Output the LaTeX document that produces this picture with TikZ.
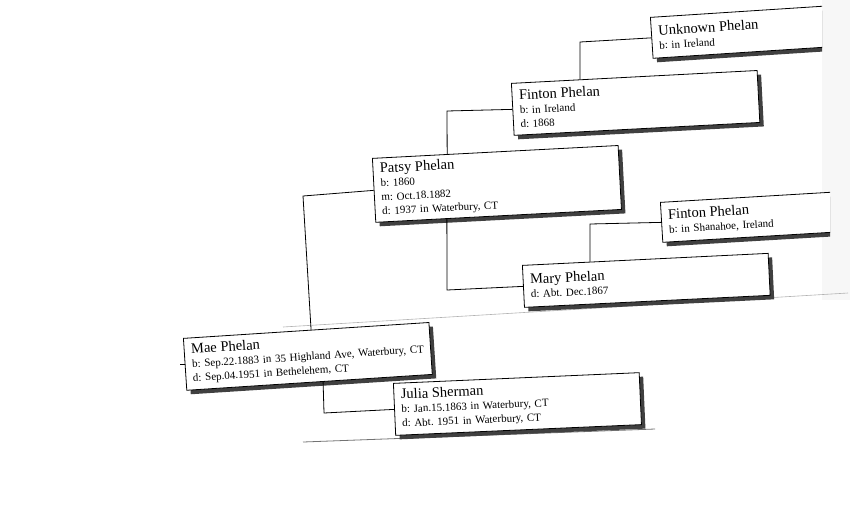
\documentclass[tikz,border=0pt]{standalone}
\usepackage{fontspec}
\setmainfont{Liberation Serif}
\usetikzlibrary{shadows,calc}
\frenchspacing
\newcommand\pnname{\fontsize{14.5}{16}\selectfont}
\newcommand\pndet{\fontsize{11}{14}\selectfont\frenchspacing}
\begin{document}
\begin{tikzpicture}[x=1pt,y=-1pt,
  person/.style={draw=black, line width=0.8pt, fill=white, anchor=north west,
    minimum width=246pt, text width=232pt, inner xsep=7pt, inner ysep=3pt,
    align=left, font=\pndet,
    drop shadow={shadow xshift=4pt, shadow yshift=-4pt, fill=black!75, opacity=1}},
  link/.style={draw=black, line width=0.8pt},
  seam/.style={draw=black!30, line width=0.6pt}]
\useasboundingbox (0,0) rectangle (850,523);
% scan traces
\fill[black!3] (822,0) rectangle (850,300);
\draw[seam] (283,327) -- (848,293);
\draw[black!55, line width=0.8pt] (303,442) -- (655,429);
% persons
\begin{scope}
  \clip (0,0) rectangle (822,523);
  \node[person, rotate=3.7, minimum height=41pt] (unknown) at (650,17)
    {{\pnname Unknown Phelan}\\ b: in Ireland};
\end{scope}
\begin{scope}
  \clip (0,0) rectangle (830,523);
  \node[person, rotate=3.4, minimum height=40pt] (finton2) at (660,202)
    {{\pnname Finton Phelan}\\ b: in Shanahoe, Ireland};
\end{scope}
\node[person, rotate=3.0, minimum height=52pt] (finton1) at (511,83)
  {{\pnname Finton Phelan}\\ b: in Ireland\\ d: 1868};
\node[person, rotate=3.0, minimum height=64pt] (patsy) at (372,158)
  {{\pnname Patsy Phelan}\\ b: 1860\\ m: Oct.18.1882\\ d: 1937 in Waterbury, CT};
\node[person, rotate=2.8, minimum height=42pt] (mary) at (522,265)
  {{\pnname Mary Phelan}\\ d: Abt. Dec.1867};
\node[person, rotate=3.7, minimum height=52pt] (mae) at (183,338)
  {{\pnname Mae Phelan}\\ \mbox{b: Sep.22.1883 in 35 Highland Ave, Waterbury, CT}\\ d: Sep.04.1951 in Bethelehem, CT};
\node[person, rotate=2.5, minimum height=52pt] (julia) at (393,383)
  {{\pnname Julia Sherman}\\ b: Jan.15.1863 in Waterbury, CT\\ d: Abt. 1951 in Waterbury, CT};
% connectors
\coordinate (e1) at (580,42);
\coordinate (e2) at (447,111);
\coordinate (e3) at (447,290);
\coordinate (e4) at (590,224);
\coordinate (e5) at (303,196);
\coordinate (e6) at (324,413);
\draw[link] (unknown.west) -- (e1) -- ($(finton1.north west)!0.28!(finton1.north east)$);
\draw[link] (finton1.west) -- (e2) -- ($(patsy.north west)!0.305!(patsy.north east)$);
\draw[link] ($(patsy.south west)!0.29!(patsy.south east)$) -- (e3) -- (mary.west);
\draw[link] (finton2.west) -- (e4) -- ($(mary.north west)!0.276!(mary.north east)$);
\draw[link] (patsy.west) -- (e5) -- ($(mae.north west)!0.52!(mae.north east)$);
\draw[link] ($(mae.south west)!0.555!(mae.south east)$) -- (e6) -- (julia.west);
\draw[link] (mae.west) -- ++(-5,0);
\end{tikzpicture}
\end{document}
